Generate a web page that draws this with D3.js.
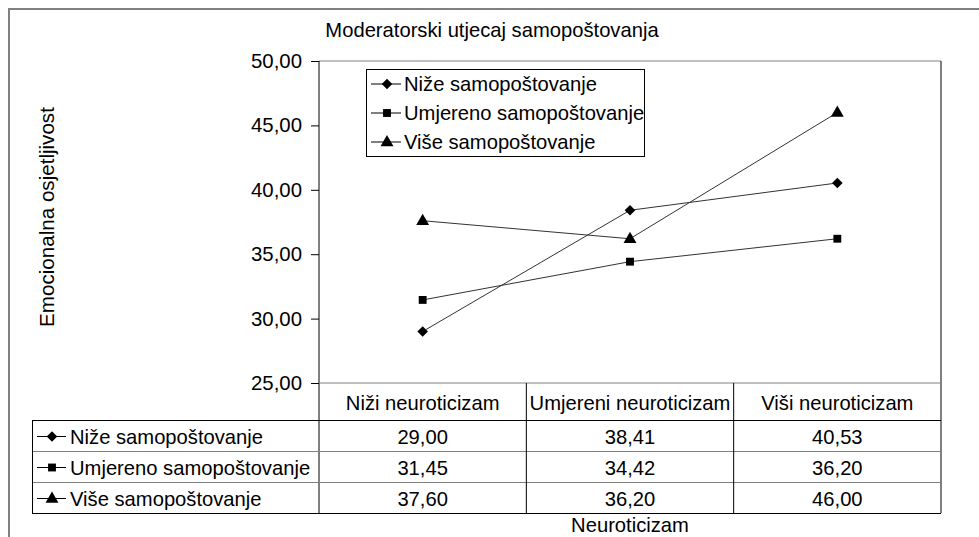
<!DOCTYPE html>
<html>
<head>
<meta charset="utf-8">
<script src="https://cdn.jsdelivr.net/npm/d3@7"></script>
<style>
  body { margin: 0; background: #fff; }
  text { font-family: "Liberation Sans", Arial, sans-serif; font-size: 20.2px; fill: #000; }
</style>
</head>
<body>
<div id="chart"></div>
<script>
// data
const categories = ["Niži neuroticizam", "Umjereni neuroticizam", "Viši neuroticizam"];
const seriesNames = ["Niže samopoštovanje", "Umjereno samopoštovanje", "Više samopoštovanje"];
const nizeValues = [29.00, 38.41, 40.53];
const umjerenoValues = [31.45, 34.42, 36.20];
const viseValues = [37.60, 36.20, 46.00];
const yTicks = [25, 30, 35, 40, 45, 50];

const series = [
    {name: seriesNames[0], values: nizeValues, shape: "diamond"},
    {name: seriesNames[1], values: umjerenoValues, shape: "square"},
    {name: seriesNames[2], values: viseValues, shape: "triangle"}
];

const W = 979, H = 537;
const plot = {left: 319, right: 941, top: 61, bottom: 383};
const rowH = 31;
const tableTop = 420;
const tableLeft = 32;

const hr = d3.formatLocale({decimal: ",", thousands: ".", grouping: [3], currency: ["", ""]});
const fmt = hr.format(".2f");

const svg = d3.select("#chart").append("svg")
    .attr("width", W)
    .attr("height", H);

// outer chart frame (only left and top visible)
svg.append("rect")
    .attr("x", 9).attr("y", 9)
    .attr("width", W + 20).attr("height", H + 20)
    .attr("fill", "none")
    .attr("stroke", "#808080")
    .attr("stroke-width", 2);

const x = d3.scaleBand()
    .domain(categories)
    .range([plot.left, plot.right]);

const y = d3.scaleLinear()
    .domain([25, 50])
    .range([plot.bottom, plot.top]);

// title
svg.append("text")
    .attr("x", 492).attr("y", 37)
    .attr("text-anchor", "middle")
    .text("Moderatorski utjecaj samopoštovanja");

// plot area border: top gray, right black
svg.append("line")
    .attr("x1", plot.left).attr("x2", plot.right)
    .attr("y1", plot.top).attr("y2", plot.top)
    .attr("stroke", "#808080");
svg.append("line")
    .attr("x1", plot.right).attr("x2", plot.right)
    .attr("y1", plot.top).attr("y2", tableTop + 3 * rowH)
    .attr("stroke", "#000");

// y axis
const yAxis = d3.axisLeft(y)
    .tickValues(yTicks)
    .tickSize(8)
    .tickPadding(9)
    .tickFormat(fmt);

const yg = svg.append("g")
    .attr("transform", `translate(${plot.left},0)`)
    .call(yAxis);
yg.select(".domain").remove();
yg.selectAll("line").attr("stroke", "#000");
yg.selectAll("text")
    .style("font-family", "\"Liberation Sans\", Arial, sans-serif")
    .style("font-size", "20.4px")
    .attr("fill", "#000");

svg.append("line")
    .attr("x1", plot.left).attr("x2", plot.left)
    .attr("y1", plot.top).attr("y2", tableTop + 3 * rowH)
    .attr("stroke", "#000");

// y title
svg.append("text")
    .attr("transform", `translate(54,217) rotate(-90)`)
    .attr("text-anchor", "middle")
    .style("font-size", "20.6px")
    .text("Emocionalna osjetljivost");

// marker shapes
function marker(sel, shape, cx, cy) {
    if (shape === "diamond") {
        sel.append("path")
            .attr("d", d3.symbol(d3.symbolSquare, 56)())
            .attr("transform", `translate(${cx},${cy}) rotate(45)`)
            .attr("fill", "#000");
    } else if (shape === "square") {
        sel.append("path")
            .attr("d", d3.symbol(d3.symbolSquare, 62)())
            .attr("transform", `translate(${cx},${cy})`)
            .attr("fill", "#000");
    } else {
        sel.append("path")
            .attr("d", d3.symbol(d3.symbolTriangle, 72)())
            .attr("transform", `translate(${cx},${cy + 0.5})`)
            .attr("fill", "#000");
    }
}

// lines and points
const line = d3.line()
    .x((d, i) => x(categories[i]) + x.bandwidth() / 2)
    .y(d => y(d));

const lines = svg.append("g");
series.forEach(s => {
    lines.append("path")
        .attr("d", line(s.values))
        .attr("fill", "none")
        .attr("stroke", "#333")
        .attr("stroke-width", 1);
});
series.forEach(s => {
    s.values.forEach((v, i) => {
        marker(lines, s.shape, x(categories[i]) + x.bandwidth() / 2, y(v));
    });
});

// legend box
const legend = svg.append("g");
legend.append("rect")
    .attr("x", 366.5).attr("y", 69.5)
    .attr("width", 278).attr("height", 87)
    .attr("fill", "#fff")
    .attr("stroke", "#000");
series.forEach((s, i) => {
    const cy = 84 + i * 29;
    legend.append("line")
        .attr("x1", 371).attr("x2", 401)
        .attr("y1", cy).attr("y2", cy)
        .attr("stroke", "#000");
    marker(legend, s.shape, 387, cy);
    legend.append("text")
        .attr("x", 404).attr("y", cy)
        .attr("dy", "0.35em")
        .text(s.name);
});

// data table
const table = svg.append("g");

// x axis line (top of header row)
table.append("line")
    .attr("x1", plot.left).attr("x2", plot.right)
    .attr("y1", plot.bottom).attr("y2", plot.bottom)
    .attr("stroke", "#808080");

// horizontal row lines
d3.range(4).forEach(r => {
    table.append("line")
        .attr("x1", tableLeft).attr("x2", plot.right)
        .attr("y1", tableTop + r * rowH + 0.5).attr("y2", tableTop + r * rowH + 0.5)
        .attr("stroke", r === 0 || r === 3 ? "#000" : "#808080");
});

// vertical column lines
categories.slice(1).forEach(c => {
    table.append("line")
        .attr("x1", x(c)).attr("x2", x(c))
        .attr("y1", plot.bottom).attr("y2", tableTop + 3 * rowH)
        .attr("stroke", "#000");
});
table.append("line")
    .attr("x1", tableLeft + 0.5).attr("x2", tableLeft + 0.5)
    .attr("y1", tableTop).attr("y2", tableTop + 3 * rowH)
    .attr("stroke", "#000");

// header labels
categories.forEach(c => {
    table.append("text")
        .attr("x", x(c) + x.bandwidth() / 2)
        .attr("y", (plot.bottom + tableTop) / 2 + 1)
        .attr("dy", "0.35em")
        .attr("text-anchor", "middle")
        .text(c);
});

// rows
series.forEach((s, r) => {
    const cy = tableTop + r * rowH + rowH / 2 + 1;
    table.append("line")
        .attr("x1", 37).attr("x2", 66)
        .attr("y1", cy).attr("y2", cy)
        .attr("stroke", "#000");
    marker(table, s.shape, 52, cy);
    table.append("text")
        .attr("x", 70).attr("y", cy)
        .attr("dy", "0.35em")
        .text(s.name);
    s.values.forEach((v, i) => {
        table.append("text")
            .attr("x", x(categories[i]) + x.bandwidth() / 2)
            .attr("y", cy)
            .attr("dy", "0.35em")
            .attr("text-anchor", "middle")
            .text(fmt(v));
    });
});

// x title
svg.append("text")
    .attr("x", 630).attr("y", 532)
    .attr("text-anchor", "middle")
    .text("Neuroticizam");
</script>
</body>
</html>
